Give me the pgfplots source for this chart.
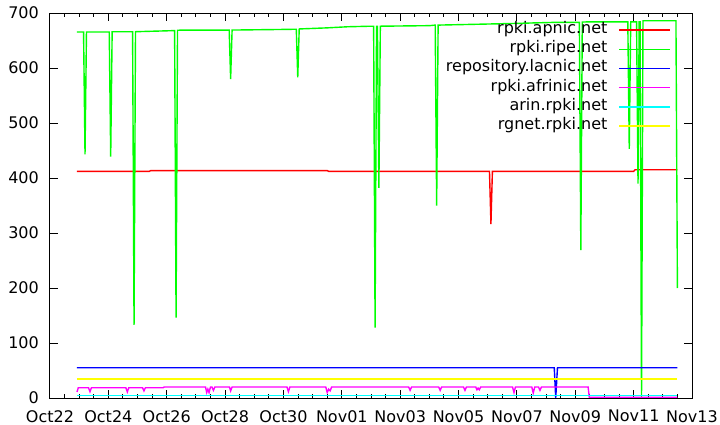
\documentclass[border=0pt]{standalone}
\usepackage{pgfplots}
\pgfplotsset{compat=1.18}
\usepackage{fontspec}
\setmainfont{DejaVu Sans}

\definecolor{gpred}{RGB}{255,0,0}
\definecolor{gpgreen}{RGB}{0,255,0}
\definecolor{gpblue}{RGB}{0,0,255}
\definecolor{gpmagenta}{RGB}{255,0,255}
\definecolor{gpcyan}{RGB}{0,255,255}
\definecolor{gpyellow}{RGB}{255,255,0}

\begin{document}
\begin{tikzpicture}
\path[use as bounding box] (-50bp,-27bp) rectangle (670bp,398bp);
\begin{axis}[
  at={(0,0)}, anchor=south west,
  scale only axis, width=642bp, height=385bp,
  xmin=0, xmax=22, ymin=0, ymax=700,
  xtick={0,2,...,22},
  xticklabels={Oct22,Oct24,Oct26,Oct28,Oct30,Nov01,Nov03,Nov05,Nov07,Nov09,Nov11,Nov13},
  minor x tick num=3,
  ytick={0,100,...,700},
  tick align=inside, tick pos=both,
  major tick length=8bp, minor tick length=4bp,
  every tick/.style={black, line width=1bp},
  axis line style={black, line width=1bp},
  /pgf/number format/assume math mode=true,
  tick label style={font=\fontsize{16bp}{19bp}\selectfont},
  yticklabel style={inner xsep=0pt, xshift=-11bp},
  xticklabel style={inner ysep=0pt, yshift=-12bp},
  every axis plot/.append style={line width=1.4bp},
  legend cell align=right,
  legend plot pos=right,
  legend image code/.code={\draw[#1, line width=1.4bp] plot coordinates {(0bp,1bp) (25bp,1bp) (51bp,1bp)};},
  legend style={draw=none, fill=none, inner sep=0pt, outer sep=0pt,
    at={(rel axis cs:0.967,0.978)}, anchor=north east,
    font=\fontsize{16bp}{19bp}\selectfont,
    nodes={inner sep=0pt, text height=12bp, text depth=7.2bp},
    column sep=11bp},
]
% rpki.apnic.net
\addplot[gpred] coordinates {
(0.925,412) (3.4,412) (3.45,413.5) (9.5,413.5) (9.55,412)
(15.06,412) (15.11,316) (15.16,412) (20.0,412) (20.05,415) (21.5,415)
};
\addlegendentry{rpki.apnic.net}
% rpki.ripe.net
\addplot[gpgreen] coordinates {
(0.925,665.5)
(1.15,665.5) (1.20,443) (1.25,665.5)
(2.03,665.5) (2.08,439) (2.13,666)
(2.83,666) (2.88,133) (2.93,666)
(3.6,667) (4.27,668) (4.32,146) (4.37,668.5)
(4.5,669)
(6.14,669) (6.19,580) (6.24,669)
(7.8,670)
(8.44,670.5) (8.49,583) (8.54,671)
(9.5,673) (10.2,675) (11.0,676)
(11.09,676) (11.14,128) (11.19,676) (11.22,676) (11.27,382) (11.32,676)
(13.0,677)
(13.20,678) (13.25,350) (13.30,678)
(15.9,681) (17.3,683)
(18.14,683) (18.19,269) (18.24,683.5)
(18.5,684)
(19.80,684) (19.85,453) (19.90,684)
(20.10,684) (20.15,390) (20.19,684)
(20.22,684) (20.27,0) (20.32,686)
(21.45,686) (21.5,200)
};
\addlegendentry{rpki.ripe.net}
% repository.lacnic.net
\addplot[gpblue] coordinates {
(0.925,55) (17.28,55) (17.33,0) (17.39,55) (21.5,55)
};
\addlegendentry{repository.lacnic.net}
% rpki.afrinic.net
\addplot[gpmagenta] coordinates {
(0.925,11) (0.97,18.7)
(1.32,18.7) (1.37,11.5) (1.42,18.7)
(2.60,18.7) (2.65,11) (2.70,18.7)
(3.17,18.7) (3.22,13) (3.27,18.7)
(3.88,18.7) (3.91,20)
(5.33,20) (5.37,10) (5.41,16) (5.45,10) (5.50,20)
(5.55,20) (5.60,14) (5.65,20)
(6.15,20) (6.19,13) (6.24,20)
(8.12,20) (8.17,11.5) (8.22,20)
(9.45,20) (9.50,10) (9.55,16) (9.60,13) (9.65,20)
(12.29,20) (12.34,14) (12.39,20)
(13.32,20) (13.37,14) (13.42,20)
(14.17,20) (14.22,14) (14.27,20)
(14.59,20) (14.63,15) (14.67,18) (14.71,15) (14.76,20)
(15.85,20) (15.90,10) (15.95,20)
(16.51,20) (16.56,9) (16.61,20)
(16.74,20) (16.79,14) (16.84,20)
(18.44,20) (18.48,1.2) (21.5,1.2)
};
\addlegendentry{rpki.afrinic.net}
% arin.rpki.net
\addplot[gpcyan] coordinates {
(0.925,4.8) (21.5,4.8)
};
\addlegendentry{arin.rpki.net}
% rgnet.rpki.net
\addplot[gpyellow] coordinates {
(0.925,34.5) (21.5,34.5)
};
\addlegendentry{rgnet.rpki.net}
\end{axis}
\end{tikzpicture}
\end{document}
